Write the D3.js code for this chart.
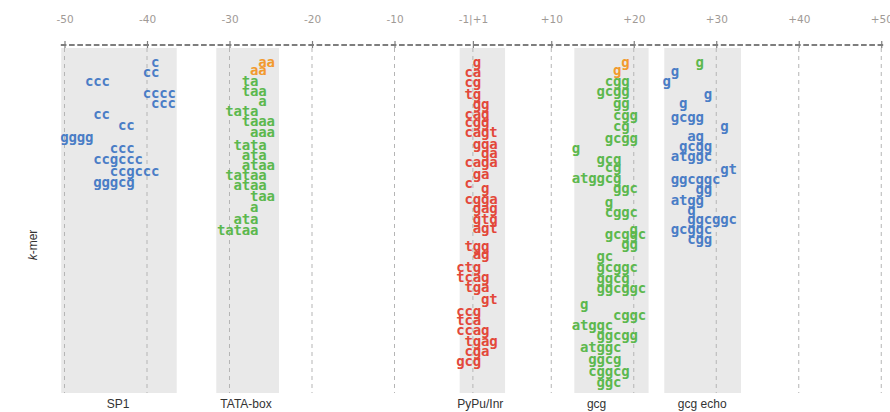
<!DOCTYPE html>
<html>
<head>
<meta charset="utf-8">
<script src="https://cdn.jsdelivr.net/npm/d3@7"></script>
<style>
  html, body { margin: 0; padding: 0; background: #ffffff; }
  svg { display: block; }
</style>
</head>
<body>
<svg id="chart" width="890" height="412"></svg>
<script>
// ---------------- data ----------------
// promoter positions (no zero): -50 … -1, +1 … +50
const tickPositions = [-50, -40, -30, -20, -10, 0, 10, 20, 30, 40, 50];
const tickLabels = ["-50", "-40", "-30", "-20", "-10", "-1|+1", "+10", "+20", "+30", "+40", "+50"];

// motif regions: name, start edge, end edge, label position
const regionNames = ["SP1", "TATA-box", "PyPu/Inr", "gcg", "gcg echo"];
const regionStart = [-50.4, -31.6, -2.1, 12.8, 23.7];
const regionEnd   = [-36.4, -24.0, 4.4, 21.8, 33.0];
const regionLabelPos = [-43.5, -28.0, 1.4, 15.5, 28.3];

// k-mers: [sequence, start position, row, (optional class override)]
const sp1Kmers = [
  ["c", -39, 0], ["cc", -40, 1.0], ["ccc", -47, 1.95], ["cccc", -40, 3.1],
  ["ccc", -39, 4.1], ["cc", -46, 5.2], ["cc", -43, 6.3], ["gggg", -50, 7.55],
  ["ccc", -44, 8.6], ["ccgccc", -46, 9.7], ["ccgccc", -44, 10.9], ["gggcg", -46, 12.0]
];
const tataKmers = [
  ["aa", -26, 0, "top"], ["aa", -27, 0.87, "top"], ["ta", -28, 1.9], ["taa", -28, 2.9],
  ["a", -26, 3.9], ["tata", -30, 4.9], ["taaa", -28, 5.9], ["aaa", -27, 7.0],
  ["tata", -29, 8.3], ["ata", -28, 9.3], ["ataa", -28, 10.3], ["tataa", -30, 11.3],
  ["ataa", -29, 12.3], ["taa", -27, 13.4], ["a", -27, 14.5], ["ata", -29, 15.7],
  ["tataa", -31, 16.8]
];
const inrKmers = [
  ["g", 1, 0], ["ca", -1, 1.07], ["cg", -1, 2.07], ["tg", -1, 3.2], ["gg", 1, 4.2],
  ["cag", -1, 5.2], ["cgg", -1, 6.07], ["cagt", -1, 7.0], ["gga", 1, 8.2], ["ga", 2, 9.1],
  ["caga", -1, 10.0], ["ga", 1, 11.2], ["c", -1, 12.1], ["g", 2, 12.6], ["cgga", -1, 13.7],
  ["gag", 1, 14.6], ["gtg", 1, 15.7], ["agt", 1, 16.6], ["tgg", -1, 18.4], ["ag", 1, 19.2],
  ["ctg", -2, 20.5], ["tcag", -2, 21.5], ["tga", -1, 22.5], ["gt", 2, 23.7], ["ccg", -2, 24.9],
  ["tca", -2, 25.8], ["ccag", -2, 26.8], ["tgag", -1, 27.9], ["cga", -1, 28.9], ["gcg", -2, 29.9]
];
const gcgKmers = [
  ["g", 19, 0, "top"], ["g", 18, 0.86, "top"], ["cgg", 17, 1.9], ["gcgg", 16, 2.9],
  ["gg", 18, 4.1], ["cgg", 18, 5.3], ["cg", 18, 6.4], ["gcgg", 17, 7.6], ["g", 13, 8.6],
  ["gcg", 16, 9.7], ["cg", 17, 10.5], ["atggcg", 13, 11.6], ["ggc", 18, 12.6], ["g", 17, 14.0],
  ["cggc", 17, 15.0], ["g", 20, 16.7], ["gcggc", 17, 17.2], ["gg", 19, 18.2], ["gc", 16, 19.4],
  ["gcggc", 16, 20.5], ["ggcg", 16, 21.6], ["ggcggc", 16, 22.6], ["g", 14, 24.2], ["cggc", 18, 25.3],
  ["atggc", 13, 26.3], ["ggcgg", 16, 27.3], ["atggc", 14, 28.5], ["ggcg", 15, 29.7],
  ["cggcg", 15, 30.9], ["ggc", 16, 32.0]
];
const echoKmers = [
  ["g", 28, 0, "gcg"], ["g", 25, 0.93], ["g", 24, 1.93], ["g", 29, 3.27], ["g", 26, 4.1],
  ["gcgg", 25, 5.53], ["g", 31, 6.43], ["ag", 27, 7.43], ["gcgg", 26, 8.43], ["atggc", 25, 9.43],
  ["gt", 31, 10.77], ["ggcggc", 25, 11.77], ["gg", 28, 12.77], ["atgg", 25, 13.87], ["g", 27, 14.87],
  ["ggcggc", 27, 15.77], ["gcggc", 25, 16.77], ["cgg", 27, 17.77]
];
const kmerGroups = [
  ["sp1", sp1Kmers], ["tata", tataKmers], ["inr", inrKmers], ["gcg", gcgKmers], ["echo", echoKmers]
];

// ---------------- styles ----------------
const classColor = {
  sp1: "#4a7dc6", echo: "#4a7dc6",
  tata: "#5cb84e", gcg: "#5cb84e",
  inr: "#e3483a", top: "#f29a2e"
};

// ---------------- drawing ----------------
const svg = d3.select("#chart");
const idx = p => (p < 0 ? p + 50 : (p > 0 ? p + 49 : 49.5));
const x = d3.scaleLinear().domain([0, 99]).range([64.5, 881.25]);
const y = d3.scaleLinear().domain([0, 10]).range([63, 163]);
const xp = p => x(idx(p));

const axisY = 45, plotTop = 48, plotBottom = 393;

// bands
svg.append("g").selectAll("rect")
  .data(regionNames.map((n, i) => ({ n, s: regionStart[i], e: regionEnd[i] })))
  .join("rect")
  .attr("x", d => xp(d.s)).attr("width", d => xp(d.e) - xp(d.s))
  .attr("y", plotTop).attr("height", plotBottom - plotTop)
  .attr("fill", "#e9e9e9");

// vertical grid lines
svg.append("g").selectAll("line")
  .data(tickPositions)
  .join("line")
  .attr("x1", d => xp(d)).attr("x2", d => xp(d))
  .attr("y1", plotTop).attr("y2", plotBottom)
  .attr("stroke", "#b5b5b5").attr("stroke-width", 1)
  .attr("stroke-dasharray", "4,4");

// dashed axis line (one dash per nucleotide position)
svg.append("line")
  .attr("x1", x(-0.45)).attr("x2", x(99.45))
  .attr("y1", axisY).attr("y2", axisY)
  .attr("stroke", "#7e7e7e").attr("stroke-width", 2)
  .attr("stroke-dasharray", `${x(1) - x(0) - 2.6},2.6`);

// top axis (labels + ticks)
const axis = d3.axisTop(d3.scaleLinear().domain(x.domain()).range(x.range()))
  .tickValues(tickPositions.map(idx))
  .tickFormat((d, i) => tickLabels[i])
  .tickSizeInner(4).tickSizeOuter(0).tickPadding(21);
const gAxis = svg.append("g").attr("transform", `translate(0,${axisY + 3})`).call(axis);
gAxis.select(".domain").remove();
gAxis.selectAll(".tick line").attr("stroke", "#7e7e7e").attr("stroke-width", 1.2).attr("y2", -7);
gAxis.selectAll(".tick text")
  .attr("fill", "#a09a96")
  .style("font-family", "'DejaVu Sans', sans-serif")
  .style("font-size", "10.5px");

// k-mer letters
const letters = [];
kmerGroups.forEach(([cls, list]) => {
  list.forEach(([seq, start, row, over]) => {
    for (let j = 0; j < seq.length; j++) {
      letters.push({ ch: seq[j], xi: idx(start) + j, row, cls: over || cls });
    }
  });
});
svg.append("g").selectAll("text")
  .data(letters)
  .join("text")
  .attr("x", d => x(d.xi))
  .attr("y", d => y(d.row))
  .attr("dy", "0.27em")
  .attr("text-anchor", "middle")
  .attr("fill", d => classColor[d.cls])
  .style("font-family", "'DejaVu Sans Mono', monospace")
  .style("font-weight", "bold")
  .style("font-size", "14px")
  .text(d => d.ch);

// region labels
svg.append("g").selectAll("text")
  .data(regionNames.map((n, i) => ({ n, l: regionLabelPos[i] })))
  .join("text")
  .attr("x", d => xp(d.l))
  .attr("y", 408)
  .attr("text-anchor", "middle")
  .attr("fill", "#333")
  .style("font-family", "'Liberation Sans', Arial, sans-serif")
  .style("font-size", "12px")
  .text(d => d.n);

// y-axis title
const yt = svg.append("text")
  .attr("transform", "translate(37,245) rotate(-90)")
  .attr("text-anchor", "middle")
  .attr("fill", "#333")
  .style("font-family", "'Liberation Sans', Arial, sans-serif")
  .style("font-size", "12px");
yt.append("tspan").style("font-style", "italic").text("k");
yt.append("tspan").text("-mer");
</script>
</body>
</html>
